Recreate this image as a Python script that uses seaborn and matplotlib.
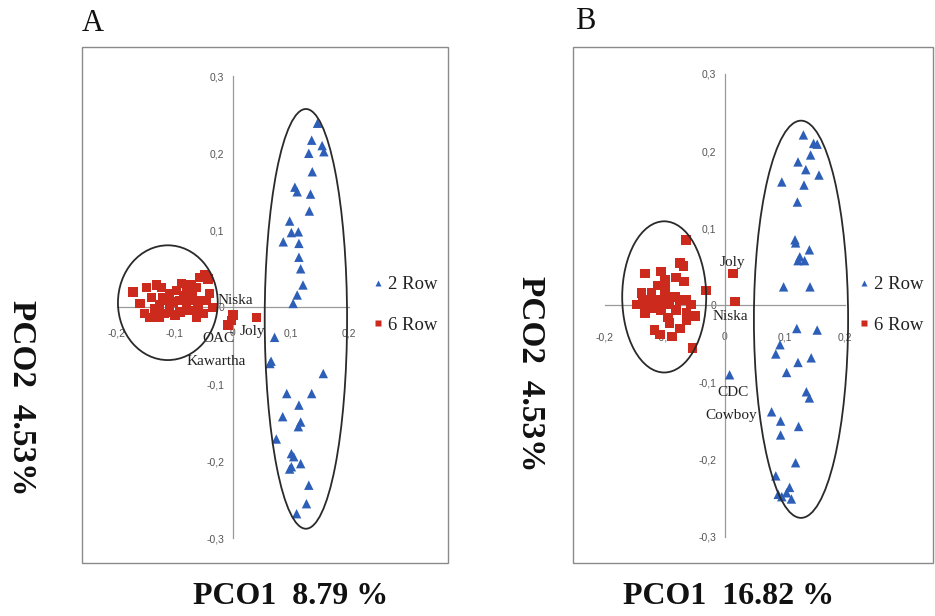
import numpy as np
import pandas as pd
import seaborn as sns
import matplotlib.pyplot as plt
from matplotlib.patches import Ellipse, Rectangle

# ---- data ----
groups = ["2 Row", "6 Row"]

a_2row_x = [0.146, 0.136, 0.154, 0.131, 0.157, 0.137, 0.107, 0.111, 0.134, 0.132, 0.098, 0.101, 0.113,
            0.087, 0.114, 0.114, 0.117, 0.121, 0.111, 0.104, 0.072, 0.064, 0.066, 0.156, 0.093, 0.136,
            0.114, 0.086, 0.117, 0.113, 0.075, 0.101, 0.105, 0.117, 0.101, 0.098, 0.131, 0.127, 0.110]
a_2row_y = [0.239, 0.217, 0.210, 0.200, 0.202, 0.176, 0.156, 0.150, 0.147, 0.125, 0.112, 0.097, 0.098,
            0.085, 0.083, 0.065, 0.050, 0.029, 0.016, 0.005, -0.039, -0.073, -0.070, -0.086, -0.112, -0.112,
            -0.127, -0.142, -0.149, -0.155, -0.171, -0.190, -0.194, -0.203, -0.207, -0.210, -0.231, -0.255, -0.268]
a_6row_x = [-0.172, -0.149, -0.152, -0.132, -0.123, -0.109, -0.097, -0.080, -0.072, -0.057, -0.048, -0.043,
            -0.063, -0.069, -0.091, -0.103, -0.114, -0.126, -0.134, -0.143, -0.126, -0.109, -0.091, -0.074,
            -0.063, -0.051, -0.045, -0.040, -0.140, -0.120, -0.080, -0.074, -0.057, -0.088, -0.109, -0.160,
            -0.100, -0.085, -0.060, -0.118, -0.034, 0.000, -0.002, -0.008, 0.041]
a_6row_y = [0.020, 0.026, -0.008, 0.029, 0.026, 0.018, 0.022, 0.022, 0.029, 0.039, 0.042, 0.037,
            0.026, 0.020, 0.009, 0.007, 0.009, 0.003, -0.002, -0.013, -0.013, -0.006, -0.006, -0.004,
            -0.013, -0.008, 0.009, 0.018, 0.013, 0.013, 0.005, 0.009, 0.009, 0.031, 0.005, 0.005,
            -0.010, 0.015, -0.003, -0.008, 0.000, -0.010, -0.017, -0.023, -0.013]

b_2row_x = [0.131, 0.148, 0.154, 0.143, 0.122, 0.135, 0.157, 0.095, 0.132, 0.121, 0.117, 0.118, 0.141,
            0.125, 0.122, 0.133, 0.098, 0.142, 0.120, 0.154, 0.092, 0.085, 0.144, 0.122, 0.103, 0.008,
            0.136, 0.141, 0.078, 0.093, 0.123, 0.093, 0.118, 0.085, 0.089, 0.095, 0.108, 0.111, 0.103]
b_2row_y = [0.221, 0.210, 0.209, 0.195, 0.186, 0.176, 0.169, 0.160, 0.156, 0.134, 0.085, 0.081, 0.072,
            0.063, 0.058, 0.058, 0.024, 0.024, -0.030, -0.032, -0.051, -0.063, -0.068, -0.074, -0.087, -0.090,
            -0.112, -0.120, -0.138, -0.150, -0.157, -0.168, -0.204, -0.221, -0.245, -0.248, -0.236, -0.251, -0.243]
b_6row_x = [-0.065, -0.075, -0.069, -0.106, -0.133, -0.081, -0.068, -0.100, -0.031, 0.014, 0.017, -0.139,
            -0.122, -0.147, -0.136, -0.125, -0.108, -0.097, -0.083, -0.075, -0.064, -0.056, -0.092, -0.122,
            -0.106, -0.081, -0.064, -0.050, -0.133, -0.095, -0.064, -0.117, -0.108, -0.092, -0.075, -0.054,
            -0.100, -0.112, -0.088]
b_6row_y = [0.085, 0.055, 0.051, 0.044, 0.041, 0.036, 0.031, 0.033, 0.019, 0.041, 0.005, 0.016,
            0.016, 0.001, 0.003, 0.007, 0.007, 0.011, 0.011, 0.007, 0.007, 0.001, 0.001, -0.004,
            -0.006, -0.006, -0.010, -0.014, -0.010, -0.016, -0.019, -0.032, -0.038, -0.023, -0.030, -0.055,
            0.020, 0.026, -0.040]

x_ticks = [-0.2, -0.1, 0.0, 0.1, 0.2]
x_tick_labels = ["-0,2", "-0,1", "0", "0,1", "0,2"]
y_ticks = [-0.3, -0.2, -0.1, 0.0, 0.1, 0.2, 0.3]
y_tick_labels = ["-0,3", "-0,2", "-0,1", "0", "0,1", "0,2", "0,3"]

a_names = ["Niska", "OAC", "Joly", "Kawartha"]
a_name_x = [-0.026, -0.053, 0.012, -0.079]
a_name_y = [0.009, -0.040, -0.032, -0.071]
b_names = ["Joly", "Niska", "CDC", "Cowboy"]
b_name_x = [-0.008, -0.020, -0.012, -0.033]
b_name_y = [0.055, -0.015, -0.113, -0.143]

# ellipses: centre x, centre y, width, height
a_ellipses = [(0.126, -0.015, 0.142, 0.545), (-0.112, 0.006, 0.172, 0.149)]
b_ellipses = [(0.127, -0.018, 0.157, 0.515), (-0.101, 0.011, 0.140, 0.196)]

x_label_a = "PCO1  8.79 %"
x_label_b = "PCO1  16.82 %"
y_label = "PCO2  4.53%"

sns.set_style("white")
plt.rcParams['font.family'] = ['Liberation Serif', 'DejaVu Serif']

palette = {"2 Row": "#2d5fb8", "6 Row": "#cc2a1c"}
markers = {"2 Row": "^", "6 Row": "s"}


def make_df(x2, y2, x6, y6):
    return pd.DataFrame({
        "x": x2 + x6,
        "y": y2 + y6,
        "group": [groups[0]] * len(x2) + [groups[1]] * len(x6),
    })


def draw(ax, df, ellipses, names, nx, ny, xlim, ylim, xpad):
    sns.scatterplot(data=df, x="x", y="y", hue="group", style="group", markers=markers,
                    palette=palette, s=46, edgecolor="none", ax=ax, zorder=3)
    ax.set_xlim(*xlim)
    ax.set_ylim(*ylim)
    for cx, cy, w, h in ellipses:
        ax.add_patch(Ellipse((cx, cy), w, h, fill=False, edgecolor="#2a2a2a", lw=1.3, zorder=4))
    for t, tx, ty in zip(names, nx, ny):
        ax.text(tx, ty, t, fontsize=11, ha="left", va="center", color="#222222", zorder=5)

    # axes through the origin, Excel-like
    for s in ["top", "right"]:
        ax.spines[s].set_visible(False)
    ax.spines["left"].set_position(("data", 0))
    ax.spines["bottom"].set_position(("data", 0))
    ax.spines["left"].set_bounds(-0.3, 0.3)
    ax.spines["bottom"].set_bounds(-0.2, 0.2)
    for s in ["left", "bottom"]:
        ax.spines[s].set_color("#999999")
        ax.spines[s].set_linewidth(0.9)
        ax.spines[s].set_zorder(1)
    ax.set_xticks(x_ticks)
    ax.set_xticklabels(x_tick_labels)
    ax.set_yticks(y_ticks)
    ax.set_yticklabels(y_tick_labels)
    ax.tick_params(axis="both", direction="out", length=3, width=0.8, color="#999999",
                   labelsize=7.5, labelcolor="#555555", pad=3)
    ax.tick_params(axis="x", pad=xpad)
    for lab in ax.get_xticklabels() + ax.get_yticklabels():
        lab.set_family("Liberation Sans")
    ax.set_xlabel("")
    ax.set_ylabel("")

    # outer frame
    ax.add_patch(Rectangle((0, 0), 1, 1, transform=ax.transAxes, fill=False,
                           edgecolor="#8a8a8a", lw=1.0, clip_on=False, zorder=0))

    leg = ax.legend(loc="center left", bbox_to_anchor=(0.775, 0.5), frameon=False,
                    fontsize=13.5, handlelength=0.5, handletextpad=0.3, labelspacing=1.25,
                    markerscale=0.7, borderaxespad=0)
    for t in leg.get_texts():
        t.set_color("#222222")


fig = plt.figure(figsize=(9.35, 6.16), dpi=100)
ax_a = fig.add_axes([82 / 935, 53 / 616, 366 / 935, 516 / 616])
ax_b = fig.add_axes([573 / 935, 53 / 616, 360 / 935, 516 / 616])

draw(ax_a, make_df(a_2row_x, a_2row_y, a_6row_x, a_6row_y), a_ellipses,
     a_names, a_name_x, a_name_y, (-0.260, 0.371), (-0.332, 0.338), 12)
draw(ax_b, make_df(b_2row_x, b_2row_y, b_6row_x, b_6row_y), b_ellipses,
     b_names, b_name_x, b_name_y, (-0.253, 0.347), (-0.334, 0.335), 16.5)

fig.text(82 / 935, 1 - 31 / 616, "A", fontsize=22, va="baseline", ha="left", color="#111111")
fig.text(575 / 935, 1 - 29 / 616, "B", fontsize=22, va="baseline", ha="left", color="#111111")

fig.text(291 / 935, 1 - 597 / 616, x_label_a, fontsize=23, fontweight="bold",
         ha="center", va="center", color="#111111")
fig.text(729 / 935, 1 - 597 / 616, x_label_b, fontsize=23, fontweight="bold",
         ha="center", va="center", color="#111111")
fig.text(21 / 935, 1 - 398 / 616, y_label, fontsize=24, fontweight="bold", rotation=-90,
         ha="center", va="center", color="#111111")
fig.text(530 / 935, 1 - 374 / 616, y_label, fontsize=24, fontweight="bold", rotation=-90,
         ha="center", va="center", color="#111111")

plt.savefig("out.png", dpi=100)
